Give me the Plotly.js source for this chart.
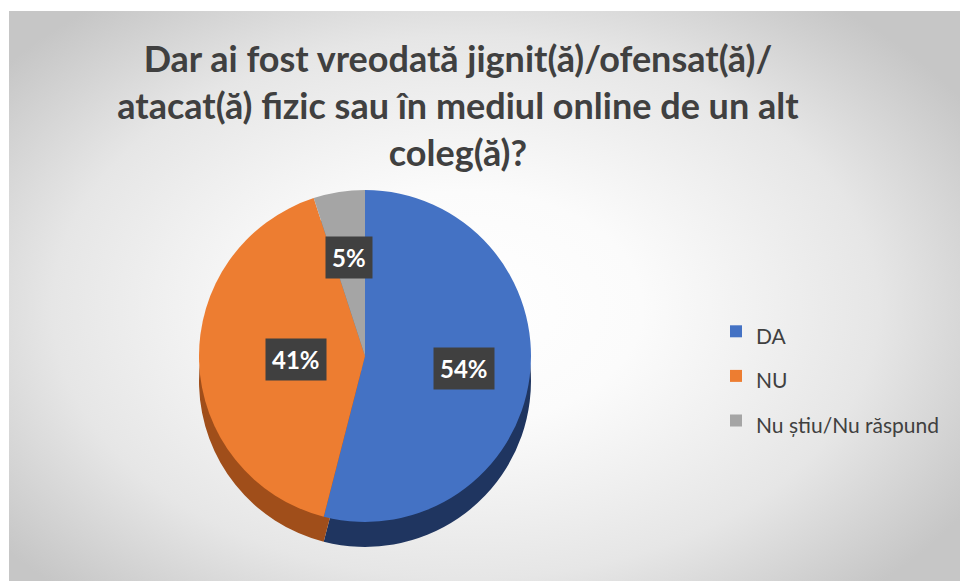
<!DOCTYPE html>
<html>
<head>
<meta charset="utf-8">
<script src="https://cdn.plot.ly/plotly-3.0.1.min.js"></script>
<style>
  html, body { margin: 0; padding: 0; background: #ffffff; }
  #bg {
    position: absolute; left: 9px; top: 11px; width: 951px; height: 570px;
    background: radial-gradient(ellipse 62% 68% at 48% 52%, #ffffff 0%, #fbfbfb 30%, #e6e6e6 70%, #c6c6c6 100%);
  }
  #chart { position: absolute; left: 0; top: 0; width: 960px; height: 581px; }
</style>
</head>
<body>
<div id="bg"></div>
<div id="chart"></div>
<script>
const categories = ["DA", "NU", "Nu știu/Nu răspund"];
const values = [54, 41, 5];
const topColors = ["#4472C4", "#ED7D31", "#A5A5A5"];
const sideColors = ["#1F3560", "#A04E1A", "#6E6E6E"];
const titleText = "Dar ai fost vreodată jignit(ă)/ofensat(ă)/<br>atacat(ă) fizic sau în mediul online de un alt<br>coleg(ă)?";

const W = 960, H = 581;
const cx = 365, cy = 356, D = 332, depth = 25;

function dom(cxp, cyp) {
  return {
    x: [(cxp - D / 2) / W, (cxp + D / 2) / W],
    y: [(H - cyp - D / 2) / H, (H - cyp + D / 2) / H]
  };
}

// legend text drawn smaller than the legend font so entries are spaced like the original
const legendLabels = categories.map(c => '<span style="font-size:21px">' + c + '</span>');

const sideTrace = {
  type: "pie", labels: legendLabels, values: values, sort: false,
  direction: "clockwise", rotation: 0, domain: dom(cx, cy + depth),
  marker: { colors: sideColors, line: { width: 0 } },
  textinfo: "none", hoverinfo: "skip", showlegend: false
};
const topTrace = {
  type: "pie", labels: legendLabels, values: values, sort: false,
  direction: "clockwise", rotation: 0, domain: dom(cx, cy),
  marker: { colors: topColors, line: { width: 0 } },
  textinfo: "none", showlegend: true
};

// label boxes at slice mid-angles, derived from the values
const total = values.reduce((a, b) => a + b, 0);
let cum = 0;
const annotations = values.map((v, i) => {
  const mid = (cum + v / 2) / total * 2 * Math.PI;
  cum += v;
  const r = D / 2 * 0.6;
  const px = cx + r * Math.sin(mid);
  const py = cy - r * Math.cos(mid);
  return {
    xref: "paper", yref: "paper", x: px / W, y: 1 - py / H,
    text: Math.round(v / total * 100) + "%", showarrow: false,
    font: { family: "Lato, sans-serif", size: 24, color: "#ffffff", weight: "bold" },
    bgcolor: "#404040", borderpad: 6
  };
});

const layout = {
  width: W, height: H,
  margin: { l: 0, r: 0, t: 0, b: 0 },
  paper_bgcolor: "rgba(0,0,0,0)", plot_bgcolor: "rgba(0,0,0,0)",
  title: {
    text: titleText, x: 0.477, xanchor: "center", y: 1 - 72 / H, yanchor: "top",
    font: { family: "Lato, sans-serif", size: 36, color: "#404040", weight: "bold" }
  },
  legend: {
    x: 716 / W, y: 1 - 304 / H, xanchor: "left", yanchor: "top",
    font: { family: "Lato, sans-serif", size: 32, color: "#404040" },
    bgcolor: "rgba(0,0,0,0)", tracegroupgap: 0
  },
  annotations: annotations,
  showlegend: true
};

Plotly.newPlot("chart", [sideTrace, topTrace], layout, { displayModeBar: false, staticPlot: true });
</script>
</body>
</html>
